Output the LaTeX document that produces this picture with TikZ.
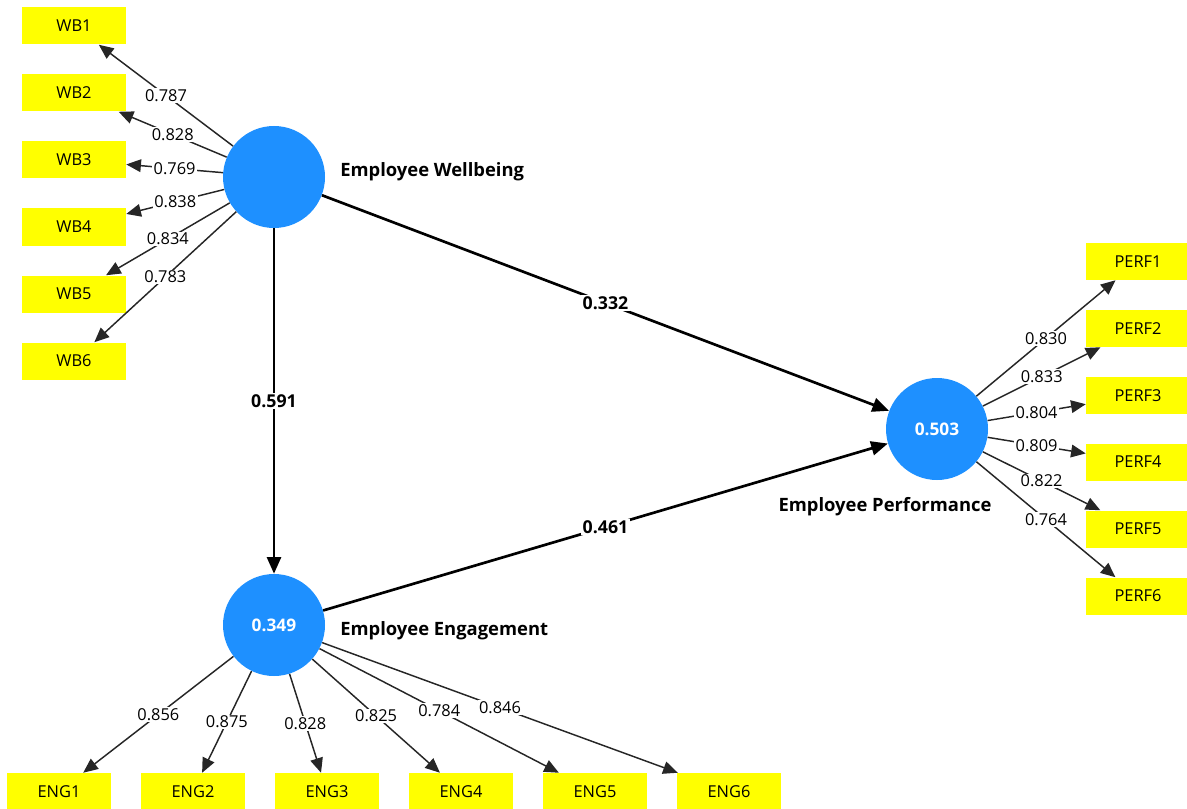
\documentclass[tikz,border=0pt]{standalone}
\usepackage{fontspec}
\setmainfont{Open Sans}
\usetikzlibrary{arrows.meta}
\definecolor{lvblue}{RGB}{30,144,255}
\definecolor{mvyellow}{RGB}{255,255,0}
\begin{document}
\begin{tikzpicture}[x=0.75pt,y=-0.75pt,
  ind/.style={fill=mvyellow, minimum width=78pt, minimum height=27.75pt, inner sep=0pt, font=\fontsize{12.3}{14}\selectfont},
  lat/.style={circle, fill=lvblue, minimum size=76.5pt, inner sep=0pt, text=white, font=\fontsize{13}{15}\selectfont\bfseries},
  lvname/.style={inner sep=0pt, font=\fontsize{13.8}{16}\selectfont\bfseries},
  load/.style={draw=black!85, line width=1.1pt, -{Triangle[length=11pt,width=9.5pt]}},
  struct/.style={draw=black, line width=2pt, -{Triangle[length=12.5pt,width=10.5pt]}},
  lbl/.style={fill=white, inner sep=1pt, font=\fontsize{12.3}{14}\selectfont},
  blbl/.style={fill=white, inner sep=1pt, font=\fontsize{13.3}{15}\selectfont\bfseries}]
\useasboundingbox (0,0) rectangle (1187,809);
\clip (0,0) rectangle (1187,809);
% latent variables
\node[lat] (EW) at (274,177) {};
\node[lat] (EE) at (274,625) {0.349};
\node[lat] (EP) at (937,429) {0.503};
\node[lvname, anchor=west] (EWn) at (340,172) {Employee Wellbeing};
\node[lvname, anchor=west] (EEn) at (340,631) {Employee Engagement};
\node[lvname] (EPn) at (885,507) {Employee Performance};
% indicators
\node[ind] (WB1) at (74,26) {WB1};
\node[ind] (WB2) at (74,93) {WB2};
\node[ind] (WB3) at (74,160) {WB3};
\node[ind] (WB4) at (74,227) {WB4};
\node[ind] (WB5) at (74,294) {WB5};
\node[ind] (WB6) at (74,361) {WB6};
\node[ind] (PERF1) at (1138,261.5) {PERF1};
\node[ind] (PERF2) at (1138,328.5) {PERF2};
\node[ind] (PERF3) at (1138,395.5) {PERF3};
\node[ind] (PERF4) at (1138,462) {PERF4};
\node[ind] (PERF5) at (1138,529) {PERF5};
\node[ind] (PERF6) at (1138,596) {PERF6};
\node[ind] (ENG1) at (59,791.5) {ENG1};
\node[ind] (ENG2) at (193,791.5) {ENG2};
\node[ind] (ENG3) at (327,791.5) {ENG3};
\node[ind] (ENG4) at (461,791.5) {ENG4};
\node[ind] (ENG5) at (595,791.5) {ENG5};
\node[ind] (ENG6) at (729,791.5) {ENG6};
% loadings
\draw[load] (EW) -- node[lbl]{0.787} (WB1);
\draw[load] (EW) -- node[lbl]{0.828} (WB2);
\draw[load] (EW) -- node[lbl]{0.769} (WB3);
\draw[load] (EW) -- node[lbl]{0.838} (WB4);
\draw[load] (EW) -- node[lbl]{0.834} (WB5);
\draw[load] (EW) -- node[lbl]{0.783} (WB6);
\draw[load] (EP) -- node[lbl]{0.830} (PERF1);
\draw[load] (EP) -- node[lbl]{0.833} (PERF2);
\draw[load] (EP) -- node[lbl]{0.804} (PERF3);
\draw[load] (EP) -- node[lbl]{0.809} (PERF4);
\draw[load] (EP) -- node[lbl]{0.822} (PERF5);
\draw[load] (EP) -- node[lbl]{0.764} (PERF6);
\draw[load] (EE) -- node[lbl]{0.856} (ENG1);
\draw[load] (EE) -- node[lbl]{0.875} (ENG2);
\draw[load] (EE) -- node[lbl]{0.828} (ENG3);
\draw[load] (EE) -- node[lbl]{0.825} (ENG4);
\draw[load] (EE) -- node[lbl]{0.784} (ENG5);
\draw[load] (EE) -- node[lbl]{0.846} (ENG6);
% structural paths
\draw[struct] (EW) -- node[blbl]{0.591} (EE);
\draw[struct] (EW) -- node[blbl]{0.332} (EP);
\draw[struct] (EE) -- node[blbl]{0.461} (EP);
\end{tikzpicture}
\end{document}
